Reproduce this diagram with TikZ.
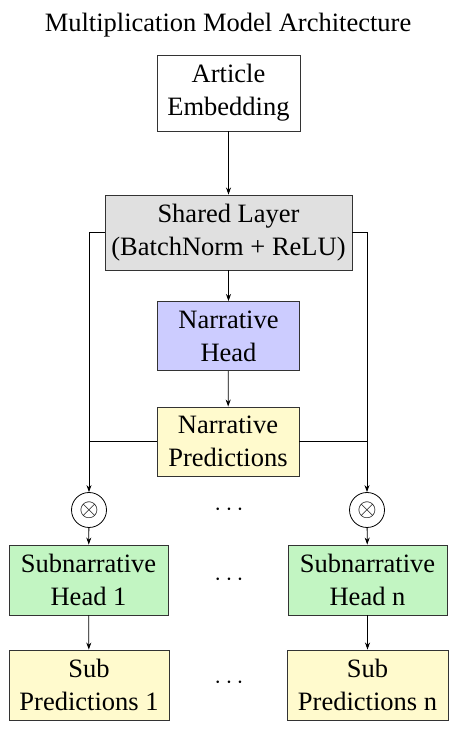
\documentclass[tikz,border=0pt]{standalone}
\usepackage{fontspec}
\setmainfont{Liberation Serif}
\usetikzlibrary{arrows.meta}
\definecolor{boxline}{HTML}{333333}
\definecolor{sharedfill}{HTML}{E0E0E0}
\definecolor{headfill}{HTML}{CCCCFF}
\definecolor{predfill}{HTML}{FFFACD}
\definecolor{subfill}{HTML}{C2F5C2}
\tikzset{
  block/.style={draw=boxline, line width=0.9pt, align=center, inner sep=0pt,
    font=\fontsize{26.5}{33}\selectfont},
  arr/.style={-{Stealth[length=7pt,width=5pt]}, line width=0.8pt},
  link/.style={line width=0.8pt},
  mult/.style={draw, circle, line width=0.8pt, minimum size=35pt, inner sep=0pt,
    font=\fontsize{24}{24}\selectfont},
  dots/.style={font=\fontsize{26}{26}\selectfont}
}
\begin{document}
\begin{tikzpicture}[x=1pt,y=1pt]
\useasboundingbox (0,0) rectangle (463,742);
\node[anchor=base, font=\fontsize{26.5}{30}\selectfont] (title) at (228,710.5) {Multiplication Model Architecture};
\node[block, minimum width=143pt, minimum height=76pt] (art) at (228.5,649) {Article\\Embedding};
\node[block, fill=sharedfill, minimum width=247pt, minimum height=75pt] (shared) at (228.5,509.5) {Shared Layer\\(BatchNorm + ReLU)};
\node[block, fill=headfill, minimum width=142pt, minimum height=69pt] (nhead) at (228.5,406) {Narrative\\Head};
\node[block, fill=predfill, minimum width=142pt, minimum height=69pt] (npred) at (228,300.5) {Narrative\\Predictions};
\node[mult] (c1) at (89,232) {$\otimes$};
\node[mult] (cn) at (367,232) {$\otimes$};
\node[dots] (d1) at (229,232) {$\cdots$};
\node[block, fill=subfill, minimum width=159pt, minimum height=70pt] (sh1) at (88.5,162) {Subnarrative\\Head 1};
\node[block, fill=subfill, minimum width=159pt, minimum height=70pt] (shn) at (367.5,162) {Subnarrative\\Head n};
\node[dots] (d2) at (229,162) {$\cdots$};
\node[block, fill=predfill, minimum width=160pt, minimum height=70pt] (sp1) at (89,57) {Sub\\Predictions 1};
\node[block, fill=predfill, minimum width=161pt, minimum height=70pt] (spn) at (367.5,57) {Sub\\Predictions n};
\node[dots] (d3) at (229,59) {$\cdots$};
% main trunk
\draw[arr] (art) -- (shared);
\draw[arr] (shared) -- (nhead);
\draw[arr] (nhead) -- (npred);
% shared features routed to both multiplications
\draw[arr] (shared.west) -| (c1.north);
\draw[arr] (shared.east) -| (cn.north);
\draw[link] (npred.west) -- (npred.west -| c1);
\draw[link] (npred.east) -- (npred.east -| cn);
% subnarrative branches
\draw[arr] (c1) -- (sh1);
\draw[arr] (cn) -- (shn);
\draw[arr] (sh1) -- (sp1);
\draw[arr] (shn) -- (spn);
\end{tikzpicture}
\end{document}
